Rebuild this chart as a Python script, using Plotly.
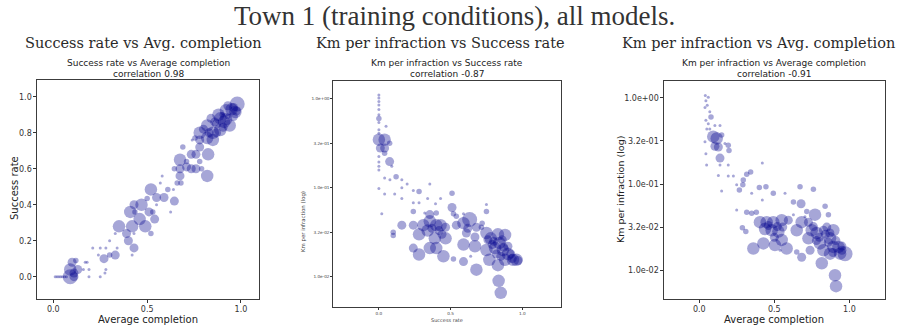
import plotly.graph_objects as go

# ---- Panel 1: success rate vs average completion (one point per model) ----
comp_p1 = [0.01, 0.02, 0.03, 0.04, 0.05, 0.06, 0.07,
           0.09, 0.11, 0.09, 0.10, 0.12, 0.13, 0.11,
           0.16, 0.19, 0.19, 0.18, 0.17,
           0.25, 0.275, 0.28, 0.21, 0.24, 0.25, 0.27, 0.28, 0.30, 0.33, 0.34, 0.30, 0.33, 0.42, 0.43,
           0.35, 0.39, 0.40, 0.42, 0.43, 0.49, 0.52,
           0.41, 0.435, 0.46, 0.43, 0.47, 0.51, 0.53, 0.54, 0.50, 0.52, 0.55, 0.55, 0.59, 0.57, 0.61, 0.625, 0.645, 0.64, 0.58,
           0.645, 0.675, 0.675, 0.68, 0.66, 0.675, 0.71, 0.735, 0.71, 0.735, 0.76, 0.78, 0.76, 0.79, 0.82, 0.825, 0.69,
           0.78, 0.78, 0.78, 0.82, 0.82, 0.85, 0.85, 0.89, 0.89, 0.92, 0.92, 0.94, 0.97, 0.98, 0.975, 0.96, 0.87, 0.905,
           0.755, 0.74, 0.83, 0.86, 0.90, 0.93,
           0.88, 0.95, 0.80, 0.84, 0.91, 0.87, 0.96, 0.93]
succ_p1 = [0.0, 0.0, 0.0, 0.0, 0.0, 0.0, 0.0,
           0.0, 0.0, 0.04, 0.08, 0.09, 0.04, 0.02,
           0.04, 0.0, 0.04, 0.08, 0.08,
           0.0, 0.02, 0.04, 0.16, 0.12, 0.16, 0.10, 0.16, 0.12, 0.12, 0.16, 0.20, 0.24, 0.12, 0.16,
           0.28, 0.24, 0.20, 0.28, 0.24, 0.28, 0.24,
           0.36, 0.36, 0.32, 0.40, 0.40, 0.36, 0.36, 0.32, 0.435, 0.485, 0.40, 0.44, 0.44, 0.52, 0.485, 0.36, 0.42, 0.485, 0.56,
           0.60, 0.56, 0.60, 0.52, 0.52, 0.65, 0.61, 0.60, 0.64, 0.68, 0.68, 0.64, 0.60, 0.60, 0.56, 0.68, 0.72,
           0.72, 0.76, 0.80, 0.77, 0.84, 0.76, 0.80, 0.815, 0.88, 0.875, 0.925, 0.84, 0.915, 0.96, 0.92, 0.89, 0.85, 0.83,
           0.77, 0.76, 0.80, 0.86, 0.90, 0.89,
           0.90, 0.93, 0.82, 0.88, 0.86, 0.80, 0.94, 0.95]
weight_p1 = [1, 1, 1, 1, 1, 1, 1,
             5, 3, 4, 3, 2, 3, 3,
             1, 1, 1, 1, 1,
             1, 1, 1, 1, 1, 1, 3, 1, 2, 3, 1, 1, 1, 1, 3,
             4, 3, 3, 4, 1, 4, 2,
             4, 2, 4, 3, 4, 3, 2, 3, 2, 4, 1, 3, 3, 1, 2, 1, 3, 1, 1,
             2, 3, 3, 2, 2, 4, 3, 3, 2, 3, 3, 2, 3, 2, 4, 4, 2,
             3, 3, 4, 4, 4, 4, 4, 4, 4, 4, 4, 4, 4, 5, 3, 3, 3, 3,
             2, 1, 3, 3, 2, 2,
             4, 4, 3, 3, 4, 3, 3, 3]

# ---- Panel 2: km per infraction vs success rate ----
succ_p2 = [0.0, 0.0, 0.0, 0.0, 0.0, 0.0, 0.0, 0.0, 0.0, 0.0, 0.0, 0.0, 0.0, 0.0, 0.0, 0.02,
           0.0, 0.04, 0.01, 0.04, 0.05, 0.075, 0.04, 0.075, 0.09, 0.04, 0.12, 0.077, 0.16, 0.16, 0.197,
           0.24, 0.28, 0.355, 0.04, 0.11, 0.16, 0.24, 0.28, 0.34, 0.395, 0.43, 0.51, 0.51, 0.24, 0.32,
           0.355, 0.40, 0.52, 0.59, 0.75, 0.75, 0.54,
           0.16, 0.24, 0.31, 0.355, 0.40, 0.43, 0.465, 0.28, 0.34, 0.39, 0.465, 0.54, 0.59, 0.633,
           0.68, 0.715, 0.61, 0.67, 0.59, 0.67, 0.75, 0.78, 0.83, 0.88, 0.84, 0.81, 0.75, 0.865,
           0.90, 0.935, 0.96, 0.88, 0.77, 0.83, 0.68, 0.59, 0.64, 0.52, 0.45, 0.40, 0.355, 0.24,
           0.28, 0.10, 0.10, 0.835, 0.85,
           0.42, 0.37, 0.62, 0.72, 0.80, 0.86, 0.92, 0.90, 0.82, 0.44,
           0.79, 0.85, 0.93, 0.97, 0.76, 0.87]
km_p2 = [1.10, 1.02, 0.93, 0.85, 0.76, 0.66, 0.60, 0.54, 0.45, 0.41, 0.224, 0.195, 0.174, 0.158, 0.098, 0.051,
         0.347, 0.347, 0.279, 0.279, 0.49, 0.316, 0.245, 0.197, 0.174, 0.129, 0.133, 0.123, 0.123, 0.100, 0.110,
         0.093, 0.091, 0.110, 0.085, 0.085, 0.076, 0.068, 0.068, 0.076, 0.066, 0.076, 0.087, 0.060, 0.054, 0.052,
         0.050, 0.052, 0.051, 0.051, 0.065, 0.054, 0.048,
         0.038, 0.038, 0.038, 0.042, 0.038, 0.038, 0.036, 0.030, 0.033, 0.027, 0.027, 0.038, 0.040, 0.044,
         0.036, 0.036, 0.031, 0.028, 0.023, 0.022, 0.031, 0.027, 0.030, 0.0295, 0.024, 0.021, 0.020, 0.020,
         0.018, 0.0155, 0.0155, 0.0155, 0.0155, 0.0135, 0.012, 0.0148, 0.017, 0.0158, 0.017, 0.021, 0.021, 0.021,
         0.0178, 0.0316, 0.029, 0.009, 0.0066,
         0.033, 0.035, 0.035, 0.040, 0.025, 0.026, 0.018, 0.022, 0.018, 0.030,
         0.023, 0.017, 0.016, 0.0152, 0.026, 0.0215]
weight_p2 = [1, 1, 1, 1, 1, 1, 2, 1, 1, 1, 1, 1, 1, 1, 1, 1,
             4, 4, 3, 3, 1, 2, 2, 3, 1, 1, 2, 1, 1, 1, 1,
             1, 2, 1, 1, 1, 1, 1, 1, 1, 1, 1, 2, 3, 2, 1,
             3, 2, 2, 1, 1, 2, 2,
             3, 3, 4, 4, 4, 4, 3, 4, 4, 4, 4, 3, 4, 5,
             3, 2, 3, 3, 4, 4, 4, 4, 4, 4, 4, 4, 4, 4,
             4, 4, 4, 4, 4, 4, 4, 3, 1, 2, 4, 4, 4, 3,
             4, 2, 2, 4, 4,
             3, 3, 3, 2, 3, 3, 3, 3, 3, 3,
             3, 3, 3, 3, 3, 3]

# ---- Panel 3: km per infraction vs average completion ----
comp_p3 = [0.04, 0.06, 0.044, 0.053, 0.038, 0.07, 0.078, 0.044, 0.06, 0.05, 0.07, 0.104, 0.038,
           0.093, 0.116, 0.127, 0.104, 0.138, 0.149, 0.171, 0.193, 0.198, 0.138, 0.138, 0.193, 0.049,
           0.044, 0.127, 0.149, 0.193, 0.227, 0.249, 0.267, 0.29, 0.293, 0.316, 0.342, 0.349, 0.40,
           0.42, 0.444, 0.42, 0.493, 0.571, 0.627, 0.671, 0.678, 0.76, 0.838, 0.86, 0.249, 0.316, 0.38,
           0.287, 0.31,
           0.404, 0.449, 0.493, 0.549, 0.593, 0.438, 0.482, 0.527, 0.556, 0.549, 0.504, 0.427, 0.36,
           0.582, 0.538, 0.649, 0.682, 0.727, 0.771, 0.749, 0.727, 0.782, 0.827, 0.849, 0.893, 0.871,
           0.804, 0.738, 0.827, 0.893, 0.927, 0.971, 0.938, 0.871, 0.816, 0.682, 0.649, 0.904, 0.911,
           0.627, 0.349, 0.704, 0.716,
           0.46, 0.52, 0.80, 0.86, 0.91, 0.95, 0.76, 0.50,
           0.84, 0.89, 0.95, 0.78, 0.87]
km_p3 = [1.07, 1.02, 0.93, 0.82, 0.776, 0.69, 0.60, 0.55, 0.50, 0.436, 0.436, 0.48, 0.31,
         0.355, 0.339, 0.269, 0.275, 0.48, 0.37, 0.295, 0.282, 0.245, 0.20, 0.166, 0.166, 0.166,
         0.224, 0.126, 0.083, 0.124, 0.124, 0.098, 0.085, 0.098, 0.111, 0.130, 0.138, 0.078, 0.091,
         0.176, 0.093, 0.065, 0.078, 0.078, 0.062, 0.093, 0.059, 0.087, 0.055, 0.044, 0.050, 0.047, 0.047,
         0.031, 0.028,
         0.036, 0.036, 0.036, 0.038, 0.038, 0.030, 0.029, 0.028, 0.0316, 0.0224, 0.0195, 0.0204, 0.0178,
         0.0178, 0.017, 0.029, 0.036, 0.036, 0.044, 0.029, 0.0234, 0.027, 0.029, 0.0316, 0.029, 0.0234,
         0.0204, 0.017, 0.017, 0.0186, 0.0186, 0.0155, 0.0155, 0.0155, 0.012, 0.0141, 0.0162, 0.0087, 0.0065,
         0.044, 0.0457, 0.0417, 0.048,
         0.033, 0.032, 0.024, 0.021, 0.022, 0.019, 0.032, 0.024,
         0.026, 0.016, 0.017, 0.022, 0.027]
weight_p3 = [1, 1, 1, 1, 1, 1, 2, 1, 1, 1, 1, 1, 1,
             4, 4, 3, 3, 1, 2, 1, 2, 2, 3, 1, 1, 1,
             1, 1, 1, 1, 1, 1, 2, 2, 2, 2, 2, 1, 2,
             1, 2, 1, 2, 1, 2, 2, 3, 2, 2, 2, 1, 2, 2,
             2, 2,
             4, 4, 4, 4, 3, 4, 4, 4, 3, 4, 4, 4, 4,
             4, 1, 4, 4, 3, 4, 4, 4, 4, 3, 3, 4, 4,
             4, 3, 4, 4, 4, 5, 4, 4, 4, 3, 2, 4, 4,
             1, 2, 1, 2,
             3, 3, 3, 3, 3, 3, 3, 3,
             3, 3, 3, 3, 3]

log_tick_vals = [1.0, 0.3162, 0.1, 0.03162, 0.01]
log_tick_text = ["1.0e+00", "3.2e-01", "1.0e-01", "3.2e-02", "1.0e-02"]
lin_tick_vals = [0.0, 0.5, 1.0]
lin_tick_text = ["0.0", "0.5", "1.0"]
y1_tick_vals = [0.0, 0.2, 0.4, 0.6, 0.8, 1.0]
y1_tick_text = ["0.0", "0.2", "0.4", "0.6", "0.8", "1.0"]

W, H = 913, 326
DOT = "rgba(0,0,139,0.5)"
SIZE_PX = {1: 3.0, 2: 5.5, 3: 9.0, 4: 12.5, 5: 15.0}
SANS = "DejaVu Sans"
SERIF = "DejaVu Serif"


def px_x(px):
    return px / W


def px_y(py):
    return 1 - py / H


fig = go.Figure()

panels = [
    (comp_p1, succ_p1, weight_p1, "x", "y"),
    (succ_p2, km_p2, weight_p2, "x2", "y2"),
    (comp_p3, km_p3, weight_p3, "x3", "y3"),
]
for xs, ys, ws, xa, ya in panels:
    fig.add_trace(go.Scatter(
        x=xs, y=ys, mode="markers", xaxis=xa, yaxis=ya,
        marker=dict(size=[SIZE_PX[w] for w in ws], color=DOT, line=dict(width=0)),
        showlegend=False, hoverinfo="x+y",
    ))

frame = dict(showline=True, mirror=True, linecolor="#3c3c3c", linewidth=1.3,
             showgrid=False, zeroline=False, ticks="outside", ticklen=2.5,
             tickwidth=1, tickcolor="#333")

# plot boxes (pixel edges)
box1 = (37, 259, 80, 299)
box2 = (333, 561, 81, 307)
box3 = (664, 885, 81, 299)


def dom(box):
    x0, x1, y0, y1 = box
    return [px_x(x0), px_x(x1)], [px_y(y1), px_y(y0)]


d1x, d1y = dom(box1)
d2x, d2y = dom(box2)
d3x, d3y = dom(box3)

tick_font = dict(family=SANS, size=8, color="#333")
tiny_font = dict(family=SANS, size=4.2, color="#444")

fig.update_layout(
    width=W, height=H, margin=dict(l=0, r=0, t=0, b=0),
    paper_bgcolor="white", plot_bgcolor="white",
    xaxis=dict(domain=d1x, range=[-0.087, 1.096], tickvals=lin_tick_vals,
               ticktext=lin_tick_text, tickfont=tick_font, anchor="y", **frame),
    yaxis=dict(domain=d1y, range=[-0.124, 1.093], tickvals=y1_tick_vals,
               ticktext=y1_tick_text, tickfont=tick_font, anchor="x", **frame),
    xaxis2=dict(domain=d2x, range=[-0.32, 1.27], tickvals=lin_tick_vals,
                ticktext=lin_tick_text, tickfont=tiny_font, anchor="y2", **frame),
    yaxis2=dict(domain=d2y, type="log", range=[-2.34, 0.2], tickvals=log_tick_vals,
                ticktext=log_tick_text, tickfont=tiny_font, anchor="x2", **frame),
    xaxis3=dict(domain=d3x, range=[-0.235, 1.237], tickvals=lin_tick_vals,
                ticktext=lin_tick_text, tickfont=tick_font, anchor="y3", **frame),
    yaxis3=dict(domain=d3y, type="log", range=[-2.336, 0.197], tickvals=log_tick_vals,
                ticktext=log_tick_text, tickfont=tick_font, anchor="x3", **frame),
)
fig.update_layout(xaxis2_ticklen=1.5, yaxis2_ticklen=1.5)

ann = []


def text(x, y, s, size, family=SANS, color="#222", angle=0):
    ann.append(dict(x=px_x(x), y=px_y(y), xref="paper", yref="paper", text=s,
                    showarrow=False, xanchor="center", yanchor="middle",
                    font=dict(family=family, size=size, color=color), textangle=angle))


# figure title and section headings
text(454, 16, "Town 1 (training conditions), all models.", 27, family="Liberation Serif", color="#333")
text(143, 43, "Success rate vs Avg. completion", 14.5, family=SERIF, color="#2a2a2a")
text(440, 43, "Km per infraction vs Success rate", 14.5, family=SERIF, color="#2a2a2a")
text(758, 43, "Km per infraction vs Avg. completion", 14.5, family=SERIF, color="#2a2a2a")

# panel titles
text(148, 63.5, "Success rate vs Average completion", 9)
text(148, 74, "correlation 0.98", 9)
text(447, 63.5, "Km per infraction vs Success rate", 9)
text(447, 74, "correlation -0.87", 9)
text(774, 63.5, "Km per infraction vs Average completion", 9)
text(774, 74, "correlation -0.91", 9)

# axis titles
text(148, 319, "Average completion", 10)
text(14, 188, "Success rate", 10, angle=-90)
text(447, 320, "Success rate", 5, color="#444")
text(304, 222, "Km per infraction (log)", 5.4, color="#444", angle=-90)
text(774, 319, "Average completion", 10)
text(620, 190, "Km per infraction (log)", 9.5, angle=-90)

fig.update_layout(annotations=ann)
fig.write_html("out.html")
